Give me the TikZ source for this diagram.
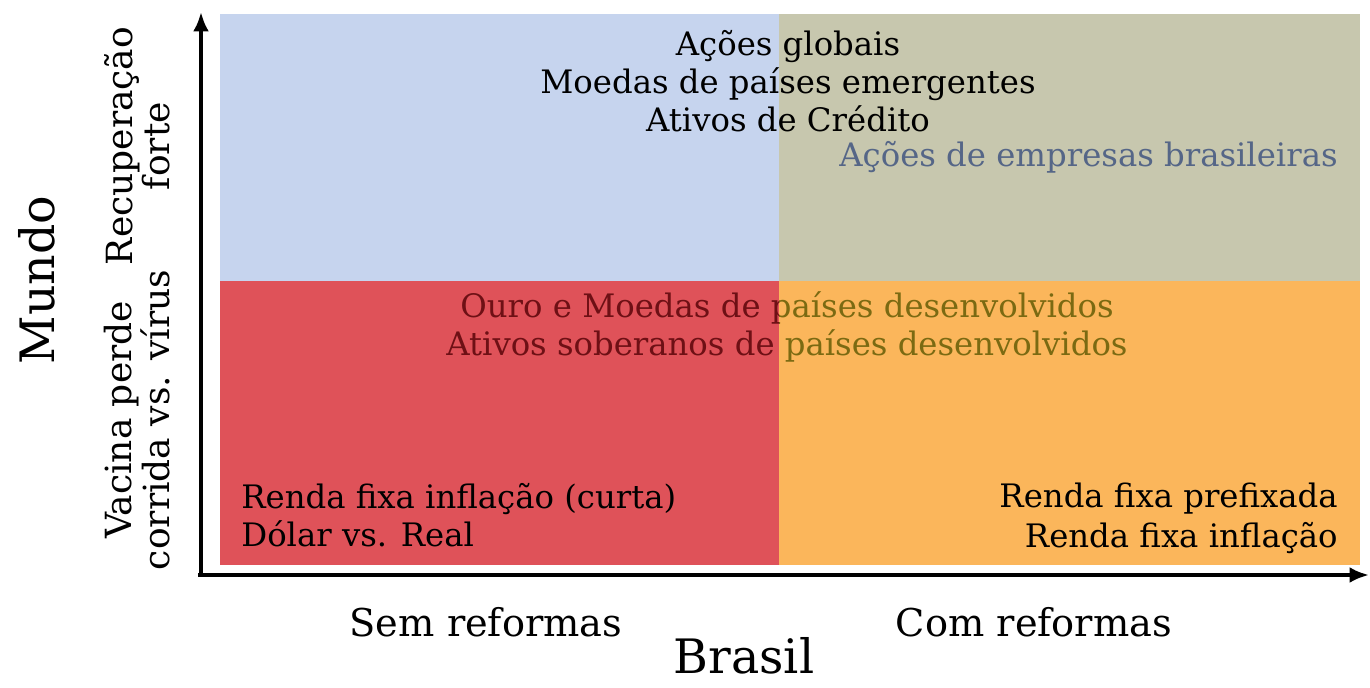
\documentclass[tikz,border=0pt]{standalone}
\usepackage{fontspec}
\setmainfont{DejaVu Serif}
\usetikzlibrary{arrows.meta}
\definecolor{qblue}{RGB}{198,212,238}
\definecolor{qolive}{RGB}{199,199,174}
\definecolor{qred}{RGB}{223,82,89}
\definecolor{qorange}{RGB}{251,182,91}
\definecolor{slate}{RGB}{85,102,135}
\definecolor{midred}{RGB}{110,16,21}
\definecolor{midolive}{RGB}{123,106,18}
\begin{document}
\begin{tikzpicture}[x=0.02cm,y=-0.02cm,
  body/.style={font=\fontsize{18.4}{21.8}\selectfont, inner sep=0pt, align=center},
  side/.style={font=\fontsize{20.5}{21.3}\selectfont, inner sep=0pt, align=center},
  axlab/.style={font=\fontsize{21.8}{26}\selectfont, inner sep=0pt},
  big/.style={font=\fontsize{27}{32}\selectfont, inner sep=0pt},
  axis/.style={line width=2.3pt, -{Latex[length=11pt,width=9pt]}}]
\useasboundingbox (0,0) rectangle (1370,687);
% quadrants
\fill[qblue] (220,14) rectangle (779,281);
\fill[qolive] (779,14) rectangle (1360,281);
\fill[qred] (220,281) rectangle (779,565);
\fill[qorange] (779,281) rectangle (1360,565);
% axes
\coordinate (O) at (201,575);
\coordinate (Ox) at (198,575);
\coordinate (ytip) at (201,12);
\coordinate (xtip) at (1369,575);
\draw[axis] (O) -- (ytip);
\draw[axis] (Ox) -- (xtip);
% top texts
\node[body] (top) at (788,81) {Ações globais\\Moedas de países emergentes\\Ativos de Crédito};
\node[body, text=slate, anchor=east] (acoes) at (1338,157) {Ações de empresas brasileiras};
% middle texts
\begin{scope}
  \clip (220,281) rectangle (779,565);
  \node[body, text=midred] (midL) at (787,327) {Ouro e Moedas de países desenvolvidos\\Ativos soberanos de países desenvolvidos};
\end{scope}
\begin{scope}
  \clip (779,281) rectangle (1360,565);
  \node[body, text=midolive] (midR) at (787,327) {Ouro e Moedas de países desenvolvidos\\Ativos soberanos de países desenvolvidos};
\end{scope}
% bottom texts
\node[body, align=left, anchor=west] (bl) at (241,515) {Renda fixa inflação (curta)\\Dólar vs. Real};
\node[body, font=\fontsize{18.4}{22.8}\selectfont, align=right, anchor=east] (br) at (1338,518) {Renda fixa prefixada\\Renda fixa inflação};
% y labels
\node[side, rotate=90] (rec) at (137,146) {Recuperação\\forte};
\node[side, rotate=90] (vac) at (137,420) {Vacina perde\\corrida vs. vírus};
\node[big, rotate=90] (mundo) at (37,280) {Mundo};
% x labels
\node[axlab] (sem) at (486,622) {Sem reformas};
\node[axlab] (com) at (1034,622) {Com reformas};
\node[big, anchor=base] (brasil) at (744,673) {Brasil};
\end{tikzpicture}
\end{document}
